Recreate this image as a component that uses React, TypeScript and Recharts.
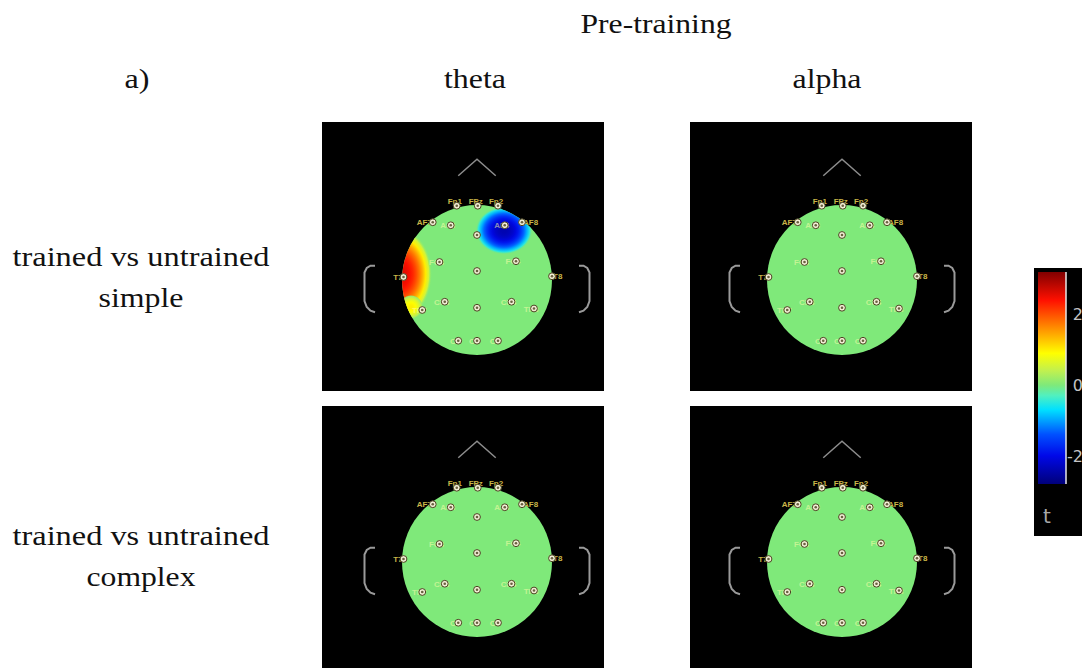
import { Bar, ComposedChart, Scatter, ScatterChart, XAxis, YAxis } from 'recharts'

// electrode layout in head units (scalp edge = radius 1)
const electrodeNames = ['Fp1', 'FPz', 'Fp2', 'AF7', 'AF3', 'AFz', 'AF4', 'AF8', 'FC3', 'FCz', 'FC4', 'T7', 'T8', 'CP3', 'CPz', 'CP4', 'TP7', 'TP8', 'O1', 'Oz', 'O2']
const electrodeX = [-0.27, 0.01, 0.28, -0.59, -0.35, 0, 0.37, 0.6, -0.5, 0, 0.52, -0.98, 1.0, -0.43, 0, 0.46, -0.73, 0.76, -0.25, 0, 0.28]
const electrodeY = [0.99, 0.99, 0.99, 0.77, 0.73, 0.6, 0.73, 0.77, 0.24, 0.12, 0.25, 0.04, 0.05, -0.29, -0.37, -0.29, -0.4, -0.38, -0.81, -0.81, -0.81]

// head outline pieces
const noseX = [-0.25, 0, 0.25]
const noseY = [1.39, 1.61, 1.39]
const earX = [1.36, 1.42, 1.47, 1.5, 1.5, 1.47, 1.42, 1.36]
const earY = [0.19, 0.19, 0.16, 0.1, -0.28, -0.36, -0.41, -0.43]

// rows / columns of the figure
const contrasts = ['simple', 'complex']
const bands = ['theta', 'alpha']

// significant clusters (t peaks) – only trained vs untrained simple, theta
const blobPanel = ['simple-theta', 'simple-theta', 'simple-theta']
const blobX = [-1.02, 0.36, -0.88]
const blobY = [0.08, 0.66, -0.36]
const blobRx = [0.42, 0.38, 0.16]
const blobRy = [0.6, 0.32, 0.16]
const blobT = [2.6, -2.4, 1.0]

// colour bar
const tRange = [-2.8, 3.2]
const tTicks = [2, 0, -2]

const electrodes = electrodeNames.map((name, i) => ({ name, x: electrodeX[i], y: electrodeY[i] }))
const nose = noseX.map((x, i) => ({ x, y: noseY[i] }))
const earLeft = earX.map((x, i) => ({ x: -x, y: earY[i] }))
const earRight = earX.map((x, i) => ({ x, y: earY[i] }))
const blobs = blobPanel.map((panel, i) => ({ panel, x: blobX[i], y: blobY[i], rx: blobRx[i], ry: blobRy[i], t: blobT[i] }))

const UNIT = 75 // px per head unit
const GREEN = '#7fe97a'
const COLORMAP: [number, string][] = [
  [-2.8, '#00007a'], [-2.0, '#0008e8'], [-1.4, '#0050ff'], [-0.7, '#00e0ff'], [-0.3, '#50f0c0'],
  [0, GREEN], [0.4, '#c0f050'], [0.9, '#ffff00'], [1.6, '#ff9000'], [2.4, '#ff1000'], [3.2, '#800000'],
]

function hex(c: string) {
  return [1, 3, 5].map((k) => parseInt(c.slice(k, k + 2), 16))
}

function tColor(t: number) {
  if (t <= COLORMAP[0][0]) return COLORMAP[0][1]
  for (let i = 1; i < COLORMAP.length; i++) {
    const [t1, c1] = COLORMAP[i]
    const [t0, c0] = COLORMAP[i - 1]
    if (t <= t1) {
      const f = (t - t0) / (t1 - t0)
      const a = hex(c0)
      const b = hex(c1)
      return `rgb(${a.map((v, k) => Math.round(v + (b[k] - v) * f)).join(',')})`
    }
  }
  return COLORMAP[COLORMAP.length - 1][1]
}

const LABEL_PLACE: Record<string, string> = {
  Fp1: 'top', FPz: 'top', Fp2: 'top', AF7: 'left', AF8: 'right', T7: 'left', T8: 'right',
  AFz: 'none', FCz: 'none', CPz: 'none',
}

function ElectrodeShape(props: any) {
  const { cx, cy, payload } = props
  const place = LABEL_PLACE[payload.name] ?? 'faint'
  let label = null
  const font = { fontSize: 8, fontFamily: '"Liberation Sans", Arial, sans-serif', fontWeight: 700 }
  if (place === 'top') {
    label = <text x={cx - 2} y={cy - 2} textAnchor="middle" fill="#c8b548" {...font}>{payload.name}</text>
  } else if (place === 'left') {
    label = <text x={cx - 1} y={cy + 3} textAnchor="end" fill="#c8b548" {...font}>{payload.name}</text>
  } else if (place === 'right') {
    label = <text x={cx + 1} y={cy + 3} textAnchor="start" fill="#c8b548" {...font}>{payload.name}</text>
  } else if (place === 'faint') {
    label = <text x={cx - 3} y={cy + 3} textAnchor="middle" fill="rgba(255,255,170,0.55)" {...font}>{payload.name}</text>
  }
  return (
    <g>
      {label}
      <circle cx={cx} cy={cy} r={3.4} fill="#f2eed6" stroke="#4a4420" strokeWidth={1} />
      <circle cx={cx} cy={cy} r={1.3} fill="#6a6040" />
    </g>
  )
}

const noMark = () => <g />

type TopomapProps = { id: string; left: number; top: number; headX: number; headY: number }

function Topomap({ id, left, top, headX, headY }: TopomapProps) {
  const panelBlobs = blobs.filter((b) => b.panel === id)
  const mLeft = headX - 1.6 * UNIT
  const mTop = headY - 1.7 * UNIT
  const margin = { left: mLeft, right: 282 - 3.2 * UNIT - mLeft, top: mTop, bottom: 269 - 3.1 * UNIT - mTop }
  return (
    <div style={{ position: 'absolute', left, top, width: 282, height: 269, background: '#000' }}>
      <ScatterChart width={282} height={269} margin={margin}>
        <defs>
          {panelBlobs.map((b, i) => (
            <radialGradient key={i} id={`blob-${id}-${i}`} cx="50%" cy="50%" r="50%">
              {Array.from({ length: 11 }, (_, k) => k / 10).map((o) => (
                <stop
                  key={o}
                  offset={o}
                  stopColor={tColor(b.t * (1 - Math.pow(o, 2.2)))}
                  stopOpacity={o === 1 ? 0 : 1}
                />
              ))}
            </radialGradient>
          ))}
        </defs>
        <XAxis type="number" dataKey="x" domain={[-1.6, 1.6]} allowDataOverflow hide />
        <YAxis type="number" dataKey="y" domain={[-1.4, 1.7]} allowDataOverflow hide />
        <Scatter
          data={[{ x: 0, y: 0 }]}
          isAnimationActive={false}
          shape={(p: any) => (
            <g>
              <clipPath id={`clip-${id}`}>
                <circle cx={p.cx} cy={p.cy} r={UNIT} />
              </clipPath>
              <circle cx={p.cx} cy={p.cy} r={UNIT} fill={GREEN} />
            </g>
          )}
        />
        <Scatter
          data={panelBlobs}
          isAnimationActive={false}
          shape={(p: any) => {
            const i = panelBlobs.indexOf(p.payload)
            return (
              <ellipse
                cx={p.cx}
                cy={p.cy}
                rx={p.payload.rx * UNIT}
                ry={p.payload.ry * UNIT}
                fill={`url(#blob-${id}-${i < 0 ? 0 : i})`}
                clipPath={`url(#clip-${id})`}
              />
            )
          }}
        />
        <Scatter data={nose} isAnimationActive={false} line={{ stroke: '#8c8c8c', strokeWidth: 1.5 }} lineType="joint" shape={noMark} />
        <Scatter data={earLeft} isAnimationActive={false} line={{ stroke: '#9a9a9a', strokeWidth: 2 }} lineType="joint" shape={noMark} />
        <Scatter data={earRight} isAnimationActive={false} line={{ stroke: '#9a9a9a', strokeWidth: 2 }} lineType="joint" shape={noMark} />
        <Scatter data={electrodes} isAnimationActive={false} shape={ElectrodeShape} />
      </ScatterChart>
    </div>
  )
}

const PANEL_LEFT: Record<string, number> = { theta: 322, alpha: 690 }
const PANEL_TOP: Record<string, number> = { simple: 122, complex: 406 }
const HEAD_X: Record<string, number> = { theta: 155, alpha: 152 }
const HEAD_Y: Record<string, number> = { simple: 158, complex: 156 }

function ColorBar() {
  const range = [{ name: 't', lo: tRange[0], hi: tRange[1] }]
  const span = tRange[1] - tRange[0]
  return (
    <div style={{ position: 'absolute', left: 1034, top: 268, width: 48, height: 268, background: '#000' }}>
      <ComposedChart width={48} height={268} data={range} margin={{ top: 4, right: 0, bottom: 52, left: 4 }} barCategoryGap={0}>
        <defs>
          <linearGradient id="jet" x1="0" y1="0" x2="0" y2="1">
            {[...COLORMAP].reverse().map(([t, c]) => (
              <stop key={t} offset={(tRange[1] - t) / span} stopColor={c} />
            ))}
          </linearGradient>
        </defs>
        <XAxis type="category" dataKey="name" hide />
        <YAxis
          orientation="right"
          type="number"
          domain={tRange}
          ticks={tTicks}
          width={16}
          allowDataOverflow
          axisLine={{ stroke: '#e8e8e8', strokeWidth: 1.5 }}
          tickLine={false}
          tick={(p: any) => (
            <text x={p.x + 9} y={p.y + 6} textAnchor="end" fill="#c4c4c4" fontSize={16} fontFamily="DejaVu Sans, sans-serif">
              {p.payload.value}
            </text>
          )}
        />
        <Bar dataKey={(d: any) => [d.lo, d.hi]} fill="url(#jet)" isAnimationActive={false} />
      </ComposedChart>
      <div style={{ position: 'absolute', left: 9, top: 238, color: '#a8a8a8', fontFamily: 'DejaVu Sans, sans-serif', fontSize: 20, lineHeight: '20px' }}>t</div>
    </div>
  )
}

const serifStyle = { fontFamily: '"Liberation Serif", "Times New Roman", serif', fill: '#111' }

export default function App() {
  return (
    <div style={{ position: 'absolute', left: 0, top: 0, width: 1082, height: 668, overflow: 'hidden', background: '#fff' }}>
      <svg width={1082} height={668} style={{ position: 'absolute', left: 0, top: 0 }}>
        <g style={serifStyle}>
          <text x={656} y={33} fontSize={28} textAnchor="middle" textLength={151} lengthAdjust="spacingAndGlyphs">Pre-training</text>
          <text x={475} y={88} fontSize={28} textAnchor="middle" textLength={62} lengthAdjust="spacingAndGlyphs">{bands[0]}</text>
          <text x={827} y={88} fontSize={28} textAnchor="middle" textLength={69} lengthAdjust="spacingAndGlyphs">{bands[1]}</text>
          <text x={137} y={88} fontSize={28} textAnchor="middle" textLength={25} lengthAdjust="spacingAndGlyphs">a)</text>
          <text x={141} y={266} fontSize={28} textAnchor="middle" textLength={257} lengthAdjust="spacingAndGlyphs">trained vs untrained</text>
          <text x={141} y={307} fontSize={28} textAnchor="middle" textLength={85} lengthAdjust="spacingAndGlyphs">{contrasts[0]}</text>
          <text x={141} y={545} fontSize={28} textAnchor="middle" textLength={257} lengthAdjust="spacingAndGlyphs">trained vs untrained</text>
          <text x={141} y={586} fontSize={28} textAnchor="middle" textLength={109} lengthAdjust="spacingAndGlyphs">{contrasts[1]}</text>
        </g>
      </svg>
      {contrasts.map((c) =>
        bands.map((b) => (
          <Topomap key={`${c}-${b}`} id={`${c}-${b}`} left={PANEL_LEFT[b]} top={PANEL_TOP[c]} headX={HEAD_X[b]} headY={HEAD_Y[c]} />
        )),
      )}
      <ColorBar />
    </div>
  )
}
